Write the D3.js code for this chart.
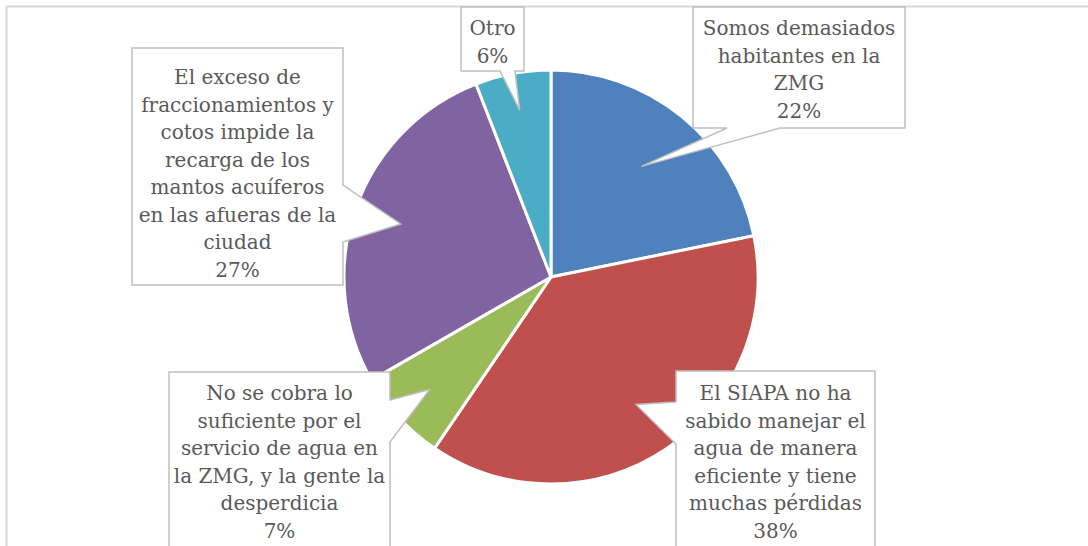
<!DOCTYPE html>
<html>
<head>
<meta charset="utf-8">
<script src="https://cdn.jsdelivr.net/npm/d3@7"></script>
<style>
  body { margin: 0; background: #fff; }
  svg { display: block; }
</style>
</head>
<body>
<script>
// slices, clockwise from 12 o'clock (shares)
var labels = [
  ["Somos demasiados", "habitantes en la", "ZMG"],
  ["El SIAPA no ha", "sabido manejar el", "agua de manera", "eficiente y tiene", "muchas pérdidas"],
  ["No se cobra lo", "suficiente por el", "servicio de agua en", "la ZMG, y la gente la", "desperdicia"],
  ["El exceso de", "fraccionamientos y", "cotos impide la", "recarga de los", "mantos acuíferos", "en las afueras de la", "ciudad"],
  ["Otro"]
]
var values = [21.8, 37.7, 7.2, 27.4, 5.9]
var colours = ["#4f81bd", "#c0504d", "#9bbb59", "#8064a2", "#4bacc6"]

var width = 1088
var height = 546
var cx = 551, cy = 277, radius = 207

// callout boxes: [x0, y0, x1, y1], side of the pointer, pointer base, first baseline, tip distance
var callouts = [
  {box: [693, 7, 905, 128], side: "bottom", base: [727, 780], y: 35, tip: 0.69},
  {box: [676, 371, 875, 560], side: "left", base: [402, 444], y: 400, tip: 0.74},
  {box: [169, 372, 390, 560], side: "right", base: [400, 442], y: 400, tip: 0.80},
  {box: [132, 48, 343, 285], side: "right", base: [185, 242], y: 84, tip: 0.77},
  {box: [461, 7, 524, 71], side: "bottom", base: [500, 515], y: 35, tip: 0.82}
]
var lineH = 27.5

var svg = d3.select("body").append("svg")
            .attr("width", width)
            .attr("height", height)

// chart frame
svg.append("rect")
   .attr("x", 6.5).attr("y", 6.5)
   .attr("width", width + 20).attr("height", height + 20)
   .attr("fill", "none")
   .attr("stroke", "#d9d9d9")
   .attr("stroke-width", 2)

var pie = d3.pie().sort(null).value(function(d){ return d })
var arcs = pie(values)

var arc = d3.arc().innerRadius(0).outerRadius(radius)

var g = svg.append("g").attr("transform", "translate(" + cx + "," + cy + ")")

g.selectAll("path")
 .data(arcs)
 .enter()
 .append("path")
 .attr("d", arc)
 .attr("fill", function(d, i){ return colours[i] })
 .attr("stroke", "#fff")
 .attr("stroke-width", 3)
 .attr("stroke-linejoin", "round")

var calloutPath = function(c, tip){
  var x0 = c.box[0], y0 = c.box[1], x1 = c.box[2], y1 = c.box[3]
  var b1 = c.base[0], b2 = c.base[1]
  var p = d3.path()
  if (c.side == "bottom"){
    p.moveTo(x0, y0); p.lineTo(x1, y0); p.lineTo(x1, y1)
    p.lineTo(b2, y1); p.lineTo(tip[0], tip[1]); p.lineTo(b1, y1)
    p.lineTo(x0, y1)
  } else if (c.side == "right"){
    p.moveTo(x0, y0); p.lineTo(x1, y0); p.lineTo(x1, b1)
    p.lineTo(tip[0], tip[1]); p.lineTo(x1, b2)
    p.lineTo(x1, y1); p.lineTo(x0, y1)
  } else {
    p.moveTo(x0, y0); p.lineTo(x1, y0); p.lineTo(x1, y1)
    p.lineTo(x0, y1); p.lineTo(x0, b2)
    p.lineTo(tip[0], tip[1]); p.lineTo(x0, b1)
  }
  p.closePath()
  return p.toString()
}

arcs.forEach(function(d, i){
  var c = callouts[i]
  var tipArc = d3.arc().innerRadius(radius * c.tip).outerRadius(radius * c.tip)
  var t = tipArc.centroid(d)
  var tip = [t[0] + cx, t[1] + cy]

  svg.append("path")
     .attr("d", calloutPath(c, tip))
     .attr("fill", "#fff")
     .attr("stroke", "#bfbfbf")
     .attr("stroke-width", 1.5)

  var lines = labels[i].concat([d3.format(".0f")(d.value) + "%"])
  var text = svg.append("text")
                .attr("x", (c.box[0] + c.box[2]) / 2)
                .attr("y", c.y)
                .attr("text-anchor", "middle")
                .style("font-family", "'DejaVu Serif', serif")
                .style("font-size", "20px")
                .attr("fill", "#595959")
  lines.forEach(function(l, j){
    text.append("tspan")
        .attr("x", (c.box[0] + c.box[2]) / 2)
        .attr("y", c.y + j * lineH)
        .text(l)
  })
})
</script>
</body>
</html>
